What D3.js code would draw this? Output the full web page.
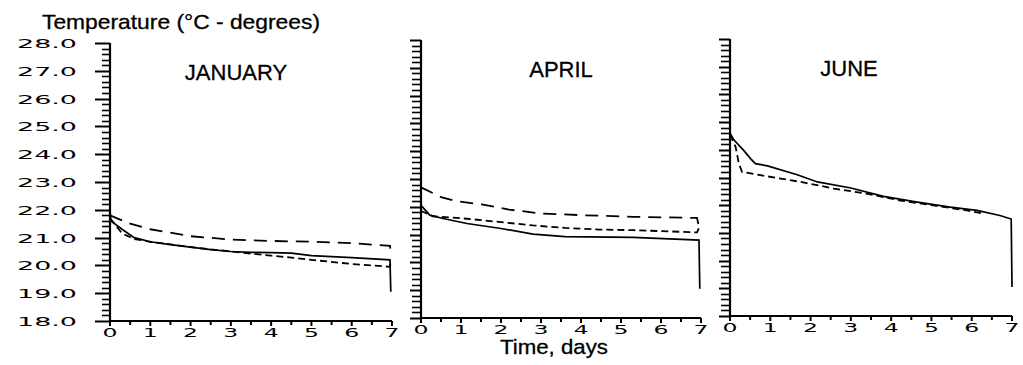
<!DOCTYPE html>
<html><head><meta charset="utf-8">
<script src="https://cdn.jsdelivr.net/npm/d3@7"></script>
<style>
body{margin:0;background:#fff;}
svg{display:block;}
</style></head>
<body>
<svg id="chart" width="1023" height="365"></svg>
<script>
// ---- data ----
const months = ["JANUARY", "APRIL", "JUNE"];
const yTickLabels = ["28.0","27.0","26.0","25.0","24.0","23.0","22.0","21.0","20.0","19.0","18.0"];
const xTickLabels = ["0","1","2","3","4","5","6","7"];
const yMin = 18, yMax = 28, xMin = 0, xMax = 7;

// [day, temperature]
const janSolid = [[0,22.0],[0.02,21.6],[0.3,21.3],[0.6,21.0],[1,20.85],[1.5,20.75],[2,20.66],[2.5,20.57],[3,20.5],[3.5,20.47],[4,20.46],[4.5,20.44],[5,20.35],[6,20.28],[6.95,20.2],[6.97,19.05]];
const janShort = [[0,21.7],[0.3,21.15],[0.6,20.95],[1,20.85],[2,20.66],[3,20.5],[4,20.35],[4.5,20.28],[5,20.2],[6,20.05],[6.95,19.95],[6.97,20.15]];
const janLong  = [[0,21.8],[0.5,21.5],[1,21.3],[2,21.05],[3,20.93],[4,20.88],[5,20.85],[6,20.8],[6.95,20.7],[6.97,20.45]];

const aprSolid = [[0,22.05],[0.22,21.7],[0.55,21.58],[1.15,21.4],[2,21.22],[2.8,21.02],[3.6,20.93],[5.3,20.9],[6.95,20.8],[6.97,19.05]];
const aprShort = [[0,21.85],[0.3,21.66],[1.15,21.57],[2,21.45],[2.8,21.33],[3.6,21.24],[4.45,21.18],[5.3,21.16],[6.9,21.08],[6.97,21.3]];
const aprLong  = [[0,22.7],[0.5,22.35],[0.9,22.2],[1.55,22.08],[2.2,21.9],[3,21.76],[4,21.7],[5.3,21.64],[6.9,21.6],[6.97,21.15]];

const junSolid = [[0,25.2],[0,24.6],[0.1,24.35],[0.34,23.98],[0.51,23.68],[0.63,23.5],[0.93,23.42],[1.67,23.1],[2.17,22.84],[3.0,22.62],[3.81,22.32],[4.65,22.11],[5.47,21.93],[6.13,21.81],[6.7,21.63],[6.98,21.5],[7.0,19.05]];
const junShort = [[0,24.55],[0.14,24.1],[0.22,23.5],[0.3,23.2],[0.93,23.04],[1.76,22.84],[2.58,22.6],[3.42,22.41],[4.23,22.17],[5.05,21.99],[5.88,21.81],[6.3,21.69]];

const panelsData = [
  {title: months[0], series: [{pts: janSolid, type: "solid"}, {pts: janShort, type: "short"}, {pts: janLong, type: "long"}]},
  {title: months[1], series: [{pts: aprSolid, type: "solid"}, {pts: aprShort, type: "short"}, {pts: aprLong, type: "long"}]},
  {title: months[2], series: [{pts: junSolid, type: "solid"}, {pts: junShort, type: "short"}]}
];

// ---- layout ----
const layout = [
  {x0: 110, x1: 392, yTop: 43, yBot: 321, titleX: 236, titleY: 80, labels: true, minorLen: 8, majorLen: 15},
  {x0: 421, x1: 701, yTop: 40, yBot: 318, titleX: 561, titleY: 77, labels: false, minorLen: 9, majorLen: 11},
  {x0: 730, x1: 1012, yTop: 39, yBot: 316, titleX: 849, titleY: 76, labels: false, minorLen: 9, majorLen: 11}
];
const dash = {solid: null, short: "7,4", long: "13,8"};

const svg = d3.select("#chart");
const textFont = "'Liberation Sans', Arial, Helvetica, sans-serif";
const tickFont = "'DejaVu Sans', sans-serif";

svg.append("text").attr("x", 42).attr("y", 29)
  .attr("font-family", textFont).attr("font-size", 21)
  .attr("stroke", "#000").attr("stroke-width", 0.3)
  .attr("textLength", 278).attr("lengthAdjust", "spacingAndGlyphs")
  .text("Temperature (°C - degrees)");

svg.append("text").attr("x", 554).attr("y", 354).attr("text-anchor", "middle")
  .attr("font-family", textFont).attr("font-size", 21)
  .attr("stroke", "#000").attr("stroke-width", 0.3)
  .attr("textLength", 108).attr("lengthAdjust", "spacingAndGlyphs")
  .text("Time, days");

const minorVals = d3.range(0, 51).map(i => yMin + i * 0.2).filter(v => Math.abs(v - Math.round(v)) > 1e-6);
const majorVals = d3.range(yMin, yMax + 1);
const xMajor = d3.range(0, 8);
const xMinor = d3.range(0.5, 7, 1);

panelsData.forEach((p, i) => {
  const L = layout[i];
  const x = d3.scaleLinear().domain([xMin, xMax]).range([L.x0, L.x1]);
  const y = d3.scaleLinear().domain([yMin, yMax]).range([L.yBot, L.yTop]);
  const g = svg.append("g");

  // y ticks (drawn through the scale)
  g.selectAll("line.ymin").data(minorVals).join("line").attr("class", "ymin")
    .attr("x1", L.x0 - L.minorLen).attr("x2", L.x0)
    .attr("y1", d => Math.round(y(d)) + 0.5).attr("y2", d => Math.round(y(d)) + 0.5)
    .attr("stroke", "#000").attr("stroke-width", 1.6);
  g.selectAll("line.ymaj").data(majorVals).join("line").attr("class", "ymaj")
    .attr("x1", L.x0 - L.majorLen).attr("x2", L.x0)
    .attr("y1", d => Math.round(y(d)) + 0.5).attr("y2", d => Math.round(y(d)) + 0.5)
    .attr("stroke", "#000").attr("stroke-width", 2);
  if (L.labels) {
    g.selectAll("text.ylab").data(majorVals).join("text").attr("class", "ylab")
      .attr("x", L.x0 - 33).attr("y", d => y(d) + 5).attr("text-anchor", "end")
      .attr("font-family", tickFont).attr("font-size", 13)
      .attr("textLength", 60).attr("lengthAdjust", "spacingAndGlyphs")
      .text(d => yTickLabels[yMax - d]);
  }
  // y axis line
  g.append("line").attr("x1", L.x0).attr("x2", L.x0).attr("y1", y(yMax)).attr("y2", y(yMin) + 1)
    .attr("stroke", "#000").attr("stroke-width", 2.2);

  // x axis line + ticks
  g.append("line").attr("x1", x(xMin)).attr("x2", x(xMax)).attr("y1", y(yMin)).attr("y2", y(yMin))
    .attr("stroke", "#000").attr("stroke-width", 2.2);
  g.selectAll("line.xmaj").data(xMajor).join("line").attr("class", "xmaj")
    .attr("x1", d => x(d)).attr("x2", d => x(d)).attr("y1", y(yMin)).attr("y2", y(yMin) + 5)
    .attr("stroke", "#000").attr("stroke-width", 2);
  g.selectAll("line.xmin").data(xMinor).join("line").attr("class", "xmin")
    .attr("x1", d => x(d)).attr("x2", d => x(d)).attr("y1", y(yMin)).attr("y2", y(yMin) + 4)
    .attr("stroke", "#000").attr("stroke-width", 2);
  g.selectAll("text.xlab").data(xMajor).join("text").attr("class", "xlab")
    .attr("x", d => x(d)).attr("y", y(yMin) + 16).attr("text-anchor", "middle")
    .attr("font-family", tickFont).attr("font-size", 13)
    .attr("textLength", 15).attr("lengthAdjust", "spacingAndGlyphs")
    .text(d => xTickLabels[d]);

  // title
  g.append("text").attr("x", L.titleX).attr("y", L.titleY).attr("text-anchor", "middle")
    .attr("font-family", textFont).attr("font-size", 22)
    .attr("stroke", "#000").attr("stroke-width", 0.3).text(p.title);

  // lines
  const line = d3.line().x(d => x(d[0])).y(d => y(d[1]));
  p.series.forEach(s => {
    g.append("path").datum(s.pts).attr("d", line)
      .attr("fill", "none").attr("stroke", "#000")
      .attr("stroke-width", s.type === "solid" ? 1.7 : 1.8)
      .attr("stroke-dasharray", dash[s.type]);
  });
});
</script>
</body></html>
